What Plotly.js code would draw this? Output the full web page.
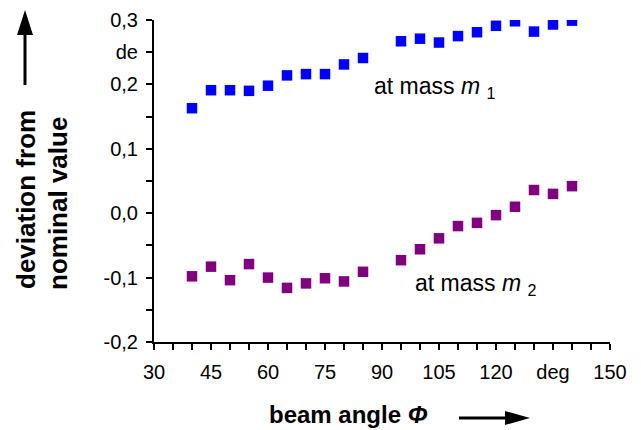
<!DOCTYPE html>
<html>
<head>
<meta charset="utf-8">
<script src="https://cdn.plot.ly/plotly-3.0.1.min.js"></script>
<style>html,body{margin:0;padding:0;background:#fff;}#chart{width:641px;height:430px;}</style>
</head>
<body>
<div id="chart"></div>
<script>
// Data
var angles = [40, 45, 50, 55, 60, 65, 70, 75, 80, 85, 95, 100, 105, 110, 115, 120, 125, 130, 135, 140];
var devM1 = [0.163, 0.191, 0.191, 0.190, 0.198, 0.214, 0.216, 0.216, 0.231, 0.241, 0.267, 0.271, 0.265, 0.275, 0.281, 0.291, 0.298, 0.282, 0.293, 0.299];
var devM2 = [-0.098, -0.083, -0.104, -0.079, -0.100, -0.116, -0.109, -0.101, -0.106, -0.091, -0.073, -0.056, -0.039, -0.020, -0.015, -0.003, 0.010, 0.036, 0.030, 0.042];

var xTickVals = [30, 45, 60, 75, 90, 105, 120, 135, 150];
var xTickText = ['30', '45', '60', '75', '90', '105', '120', 'deg', '150'];
var yTickVals = [-0.2, -0.1, 0, 0.1, 0.2, 0.25, 0.3];
var yTickText = ['-0,2', '-0,1', '0,0', '0,1', '0,2', 'de', '0,3'];

var W = 641, H = 430, L = 154, R = 31, T = 20, B = 88;
var PW = W - L - R, PH = H - T - B;
function px(x){ return (x - L) / PW; }
function py(y){ return (H - B - y) / PH; }

var FONT = 'Liberation Sans, Arial, sans-serif';

var traces = [
  {x: angles, y: devM1, type: 'scatter', mode: 'markers', name: 'm1',
   marker: {symbol: 'square', size: 10.5, color: '#0000ff'}},
  {x: angles, y: devM2, type: 'scatter', mode: 'markers', name: 'm2',
   marker: {symbol: 'square', size: 10.5, color: '#800080'}}
];

var axisCommon = {
  showline: true, linecolor: '#000', linewidth: 2,
  ticks: 'outside', ticklen: 6, tickwidth: 2, tickcolor: '#000',
  showgrid: false, zeroline: false, mirror: false,
  tickfont: {family: FONT, size: 20, color: '#000'},
  tickmode: 'array', fixedrange: true
};

var layout = {
  width: W, height: H,
  margin: {l: L, r: R, t: T, b: B, pad: 0},
  paper_bgcolor: '#fff', plot_bgcolor: '#fff',
  showlegend: false,
  xaxis: Object.assign({}, axisCommon, {range: [30, 150], tickvals: xTickVals, ticktext: xTickText, ticklabelstandoff: 5,
    minor: {tick0: 30, dtick: 5, ticks: 'outside', ticklen: 6, tickwidth: 2, tickcolor: '#000', showgrid: false}}),
  yaxis: Object.assign({}, axisCommon, {range: [-0.2, 0.3], tickvals: yTickVals, ticktext: yTickText, ticklabelstandoff: 4,
    minor: {tick0: 0, dtick: 0.05, ticks: 'outside', ticklen: 6, tickwidth: 2, tickcolor: '#000', showgrid: false}}),
  annotations: [
    {xref: 'paper', yref: 'paper', x: px(372), y: py(88), xanchor: 'left', yanchor: 'middle', showarrow: false,
     text: 'at mass <i>m</i> <sub>1</sub>', font: {family: FONT, size: 23, color: '#000'}},
    {xref: 'paper', yref: 'paper', x: px(413), y: py(284), xanchor: 'left', yanchor: 'middle', showarrow: false,
     text: 'at mass <i>m</i> <sub>2</sub>', font: {family: FONT, size: 23, color: '#000'}},
    {xref: 'paper', yref: 'paper', x: px(348), y: py(414), xanchor: 'center', yanchor: 'middle', showarrow: false,
     text: '<b>beam angle <i>Φ</i></b>', font: {family: FONT, size: 24, color: '#000'}},
    {xref: 'paper', yref: 'paper', x: px(26), y: py(200), xanchor: 'center', yanchor: 'middle', showarrow: false, textangle: -90,
     text: '<b>deviation from</b>', font: {family: FONT, size: 26, color: '#000'}},
    {xref: 'paper', yref: 'paper', x: px(58), y: py(204), xanchor: 'center', yanchor: 'middle', showarrow: false, textangle: -90,
     text: '<b>nominal value</b>', font: {family: FONT, size: 26, color: '#000'}}
  ],
  shapes: [
    {type: 'line', xref: 'paper', yref: 'paper', x0: px(25), x1: px(25), y0: py(85), y1: py(32), line: {color: '#000', width: 3}},
    {type: 'path', xref: 'paper', yref: 'paper',
     path: 'M' + px(25) + ',' + py(10) + ' L' + px(17) + ',' + py(35) + ' L' + px(33) + ',' + py(35) + ' Z',
     fillcolor: '#000', line: {color: '#000', width: 0}},
    {type: 'line', xref: 'paper', yref: 'paper', x0: px(459), x1: px(508), y0: py(418), y1: py(418), line: {color: '#000', width: 3}},
    {type: 'path', xref: 'paper', yref: 'paper',
     path: 'M' + px(530) + ',' + py(418) + ' L' + px(505) + ',' + py(411) + ' L' + px(505) + ',' + py(425) + ' Z',
     fillcolor: '#000', line: {color: '#000', width: 0}}
  ]
};

Plotly.newPlot('chart', traces, layout, {displayModeBar: false, staticPlot: true});
</script>
</body>
</html>
